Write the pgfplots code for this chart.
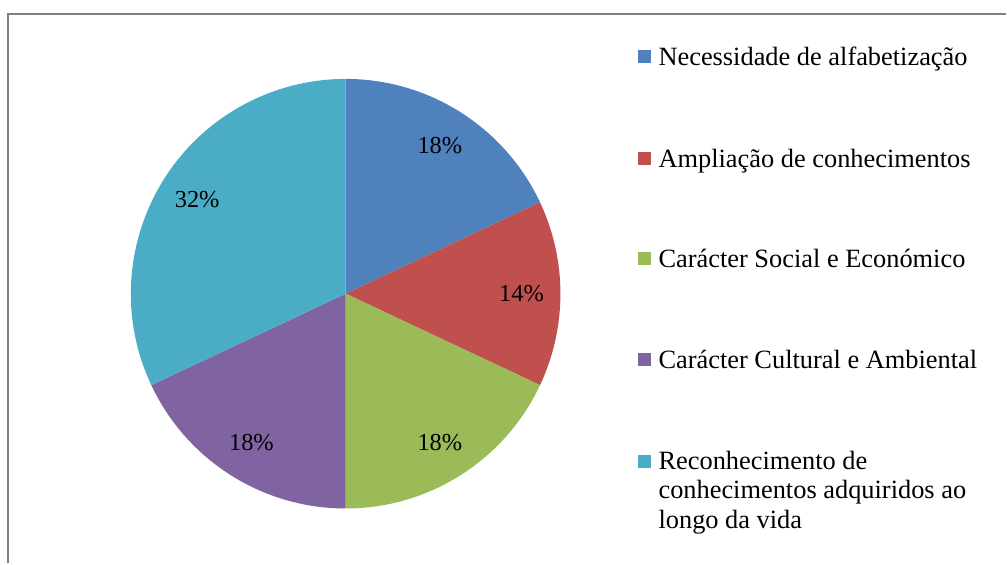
\documentclass[border=0pt]{standalone}
\usepackage{pgfplots}
\pgfplotsset{compat=1.18}
\usepackage{fontspec}
\setmainfont{Liberation Serif}
\definecolor{pieblue}{HTML}{4F81BD}
\definecolor{piered}{HTML}{C0504D}
\definecolor{piegreen}{HTML}{9BBB59}
\definecolor{piepurple}{HTML}{8064A2}
\definecolor{pieteal}{HTML}{4BACC6}
\definecolor{framegray}{HTML}{808080}
% pie centre (346,270) in a 1007 x 564 coordinate frame, radius 215
\newcommand\startang{90}
\newcommand\slice[2]{%
  \pgfmathsetmacro\endang{\startang - #1*3.6}%
  \pgfmathsetmacro\midang{\startang - #1*1.8}%
  \edef\temp{\noexpand\fill[#2] (axis cs:346,270) -- ++(\startang:215bp) arc[start angle=\startang, end angle=\endang, radius=215bp] -- cycle;
    \noexpand\node[font=\noexpand\fontsize{24.5}{28}\noexpand\selectfont, inner sep=0pt, shift={(\midang:176bp)}] at (axis cs:346,270) {#1\noexpand\%};}%
  \temp
  \global\let\startang\endang}
\newcommand\legentry[3]{% y of marker centre (from top), colour, text
  \edef\temp{\noexpand\fill[#2] (axis cs:639,{564-#1-6.5}) rectangle (axis cs:652,{564-#1+6.5});}\temp
  \node[anchor=base west, inner sep=0pt, font=\fontsize{26.5}{30}\selectfont] at (axis cs:659,{564-#1-8.7}) {#3};}
\begin{document}
\begin{tikzpicture}
\begin{axis}[hide axis, scale only axis, width=1007bp, height=564bp,
  xmin=0, xmax=1007, ymin=0, ymax=564, clip=false]
\path (axis cs:0,0) rectangle (axis cs:1007,564);
\draw[framegray, line width=2bp] (axis cs:8.5,0) -- (axis cs:8.5,549.5) -- (axis cs:1007,549.5);
\slice{18}{pieblue}
\slice{14}{piered}
\slice{18}{piegreen}
\slice{18}{piepurple}
\slice{32}{pieteal}
\legentry{57}{pieblue}{Necessidade de alfabetização}
\legentry{158.5}{piered}{Ampliação de conhecimentos}
\legentry{259}{piegreen}{Carácter Social e Económico}
\legentry{360}{piepurple}{Carácter Cultural e Ambiental}
\legentry{461.5}{pieteal}{Reconhecimento de}
\node[anchor=base west, inner sep=0pt, font=\fontsize{26.5}{30}\selectfont] at (axis cs:659,{564-499}) {conhecimentos adquiridos ao};
\node[anchor=base west, inner sep=0pt, font=\fontsize{26.5}{30}\selectfont] at (axis cs:659,{564-528.6}) {longo da vida};
\end{axis}
\end{tikzpicture}
\end{document}
